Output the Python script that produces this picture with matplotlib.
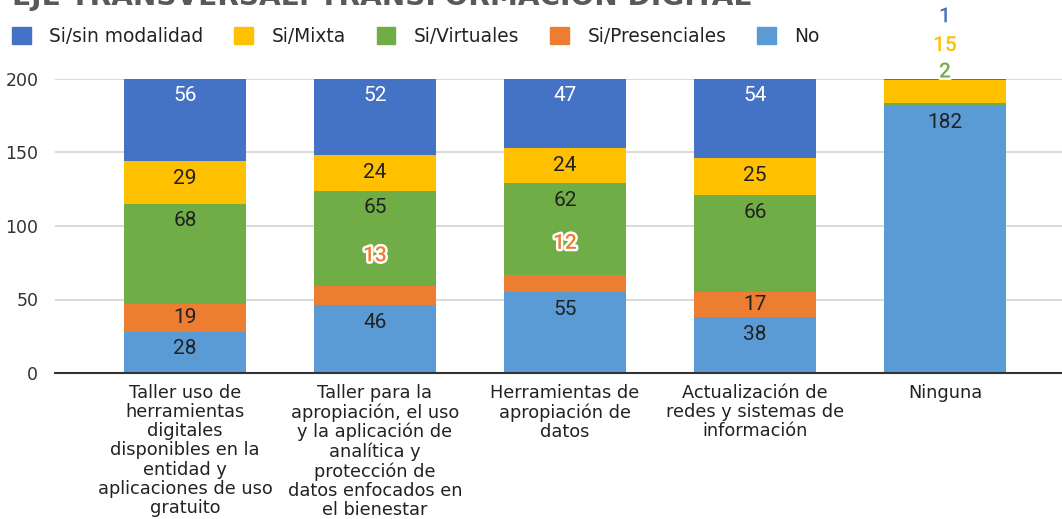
import matplotlib
matplotlib.use("Agg")
import matplotlib.pyplot as plt
import matplotlib.patheffects as pe
import numpy as np

# ---------------- data ----------------
categories = [
    "Taller uso de\nherramientas\ndigitales\ndisponibles en la\nentidad y\naplicaciones de uso\ngratuito",
    "Taller para la\napropiación, el uso\ny la aplicación de\nanalítica y\nprotección de\ndatos enfocados en\nel bienestar",
    "Herramientas de\napropiación de\ndatos",
    "Actualización de\nredes y sistemas de\ninformación",
    "Ninguna",
]
series_names = ["No", "Si/Presenciales", "Si/Virtuales", "Si/Mixta", "Si/sin modalidad"]
no_vals = [28, 46, 55, 38, 182]
presenciales_vals = [19, 13, 12, 17, 0]
virtuales_vals = [68, 65, 62, 66, 2]
mixta_vals = [29, 24, 24, 25, 15]
sin_modalidad_vals = [56, 52, 47, 54, 1]
series_values = [no_vals, presenciales_vals, virtuales_vals, mixta_vals, sin_modalidad_vals]
yticks = [0, 50, 100, 150, 200]
title = "EJE TRANSVERSAL: TRANSFORMACIÓN DIGITAL"

# ---------------- style ----------------
colors = {
    "No": "#5B9BD5",
    "Si/Presenciales": "#ED7D31",
    "Si/Virtuales": "#70AD47",
    "Si/Mixta": "#FFC000",
    "Si/sin modalidad": "#4472C4",
}
legend_order = ["Si/sin modalidad", "Si/Mixta", "Si/Virtuales", "Si/Presenciales", "No"]
# labels that are pushed out of small segments (pixels upward)
displaced = {("Si/Presenciales", 1): 40, ("Si/Presenciales", 2): 40,
             ("Si/Virtuales", 4): 32, ("Si/Mixta", 4): 46, ("Si/sin modalidad", 4): 63}

W, H = 1062, 519
fig = plt.figure(figsize=(W / 100, H / 100), dpi=100)
ax = fig.add_axes([55 / W, (H - 373) / H, (W - 55) / W, (373 - 79) / H])

x = np.arange(len(categories))
bar_w = 0.642
bottom = np.zeros(len(categories))
px_per_unit = (373 - 79) / 200.0
for name, vals in zip(series_names, series_values):
    vals = np.array(vals, dtype=float)
    ax.bar(x, vals, bar_w, bottom=bottom, color=colors[name], linewidth=0, zorder=3)
    for i, v in enumerate(vals):
        if v <= 0:
            continue
        top = bottom[i] + v
        ypos = top - min(17 / px_per_unit, v / 2)
        key = (name, i)
        if key in displaced:
            ax.annotate(f"{int(v)}", (x[i], ypos), xytext=(0, displaced[key] * 0.72),
                        textcoords="offset points", ha="center", va="center",
                        fontsize=15, family="Roboto", fontweight="medium",
                        color=colors[name], annotation_clip=False, zorder=5,
                        path_effects=[pe.withStroke(linewidth=3.5, foreground="white")])
        else:
            tc = "white" if name == "Si/sin modalidad" else "#222222"
            ax.text(x[i], ypos, f"{int(v)}", ha="center", va="center",
                    fontsize=15, family="Roboto", color=tc, zorder=5)
    bottom += vals

ax.set_xlim(-0.684, 4.616)
ax.set_ylim(0, 200)
ax.set_yticks(yticks)
ax.set_yticklabels([str(t) for t in yticks], fontsize=12.5, color="#333333")
ax.set_xticks(x)
ax.set_xticklabels(categories, fontsize=12.8, color="#222222", linespacing=1.08)
ax.tick_params(axis="x", length=0, pad=8)
ax.tick_params(axis="y", length=0, pad=12)
ax.grid(axis="y", color="#d0d0d0", linewidth=1.1, zorder=0)
for s in ["top", "right", "left"]:
    ax.spines[s].set_visible(False)
ax.spines["bottom"].set_color("#333333")
ax.spines["bottom"].set_linewidth(1.5)
ax.spines["bottom"].set_zorder(4)

handles = [plt.Rectangle((0, 0), 1, 1, color=colors[n]) for n in legend_order]
fig.legend(handles, legend_order, loc="upper left", ncol=5, frameon=False,
           bbox_to_anchor=(12 / W, 1 - 27 / H), bbox_transform=fig.transFigure,
           fontsize=13.4, handlelength=1.0, handleheight=1.0, handletextpad=1.0,
           columnspacing=1.66, borderpad=0, borderaxespad=0,
           labelcolor="#222222")

fig.text(12 / W, 1 - 5 / H, title, fontsize=20.2, fontweight="bold",
         color="#595959", ha="left", va="baseline")

fig.savefig("out.png", dpi=100)
